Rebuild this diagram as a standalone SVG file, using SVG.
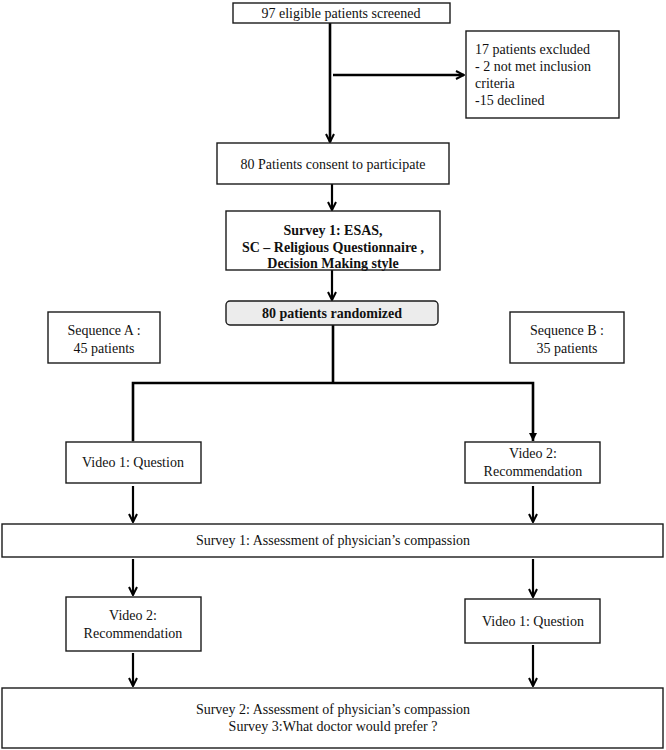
<svg xmlns="http://www.w3.org/2000/svg" width="666" height="750" viewBox="0 0 666 750">
<style>
.box{fill:#fff;stroke:#1a1a1a;stroke-width:1.4}
.gray{fill:#ececec;stroke:#1a1a1a;stroke-width:1.4}
text{font-family:"Liberation Serif","Times New Roman",serif;font-size:14px;fill:#111}
.c{text-anchor:middle}
.b{font-weight:bold}
.ln{fill:none;stroke:#000;stroke-width:2.6}
.sh{fill:none;stroke:#000;stroke-width:2.2}
</style>
<defs>
<marker id="v" viewBox="0 0 10 10" refX="9" refY="5" markerWidth="10" markerHeight="10" markerUnits="userSpaceOnUse" orient="auto">
<path d="M1,1 L9,5 L1,9" fill="none" stroke="#000" stroke-width="2"/>
</marker>
<marker id="t" viewBox="0 0 10 10" refX="10" refY="5" markerWidth="8" markerHeight="8" markerUnits="userSpaceOnUse" orient="auto">
<path d="M0,0 L10,5 L0,10 z" fill="#000"/>
</marker>
</defs>
<g id="connectors">
<line class="ln" x1="330" y1="23" x2="330" y2="142" marker-end="url(#v)"/>
<line class="ln" x1="333" y1="75" x2="464" y2="75" marker-end="url(#v)"/>
<line class="sh" x1="332" y1="184" x2="332" y2="210" marker-end="url(#v)"/>
<line class="sh" x1="332" y1="270" x2="332" y2="300" marker-end="url(#v)"/>
<polyline class="ln" points="333,325 333,383"/>
<polyline class="ln" points="133,441 133,383 533,383 533,441" marker-start="url(#t)" marker-end="url(#t)"/>
<line class="sh" x1="133" y1="486" x2="133" y2="522" marker-end="url(#v)"/>
<line class="sh" x1="533" y1="486" x2="533" y2="522" marker-end="url(#v)"/>
<line class="sh" x1="133" y1="559" x2="133" y2="595" marker-end="url(#v)"/>
<line class="sh" x1="533" y1="559" x2="533" y2="597" marker-end="url(#v)"/>
<line class="sh" x1="133" y1="653" x2="133" y2="686" marker-end="url(#v)"/>
<line class="sh" x1="533" y1="645" x2="533" y2="686" marker-end="url(#v)"/>
</g>
<g id="screened">
<rect class="box" x="233" y="3" width="217" height="20"/>
<text class="c" x="341" y="18">97 eligible patients screened</text>
</g>
<g id="excluded">
<rect class="box" x="466" y="31" width="153" height="87"/>
<text x="475" y="54">17 patients excluded</text>
<text x="475" y="71">- 2 not met inclusion</text>
<text x="475" y="88">criteria</text>
<text x="475" y="105">-15 declined</text>
</g>
<g id="consent">
<rect class="box" x="217" y="143" width="232" height="41"/>
<text class="c" x="333" y="169">80 Patients consent to participate</text>
</g>
<g id="survey1-esas">
<rect class="box" x="226" y="211" width="214" height="59"/>
<text class="c b" x="333" y="235">Survey 1: ESAS,</text>
<text class="c b" x="333" y="252">SC – Religious Questionnaire ,</text>
<text class="c b" x="333" y="268">Decision Making style</text>
</g>
<g id="randomized">
<rect class="gray" x="226" y="301" width="212" height="24" rx="4"/>
<text class="c b" x="332" y="318">80 patients randomized</text>
</g>
<g id="seqA">
<rect class="box" x="48" y="312" width="112" height="51"/>
<text class="c" x="104" y="335">Sequence A :</text>
<text class="c" x="104" y="353">45 patients</text>
</g>
<g id="seqB">
<rect class="box" x="510" y="312" width="114" height="51"/>
<text class="c" x="567" y="335">Sequence B :</text>
<text class="c" x="567" y="353">35 patients</text>
</g>
<g id="videoA1">
<rect class="box" x="66" y="442" width="135" height="41"/>
<text class="c" x="133" y="467">Video 1: Question</text>
</g>
<g id="videoB1">
<rect class="box" x="465" y="442" width="135" height="41"/>
<text class="c" x="533" y="458">Video 2:</text>
<text class="c" x="533" y="476">Recommendation</text>
</g>
<g id="survey1">
<rect class="box" x="2" y="524" width="661" height="33"/>
<text class="c" x="333" y="545">Survey 1: Assessment of physician’s compassion</text>
</g>
<g id="videoA2">
<rect class="box" x="66" y="597" width="135" height="54"/>
<text class="c" x="133" y="620">Video 2:</text>
<text class="c" x="133" y="638">Recommendation</text>
</g>
<g id="videoB2">
<rect class="box" x="465" y="599" width="135" height="44"/>
<text class="c" x="533" y="626">Video 1: Question</text>
</g>
<g id="survey23">
<rect class="box" x="2" y="688" width="661" height="60"/>
<text class="c" x="333" y="714">Survey 2: Assessment of physician’s compassion</text>
<text class="c" x="333" y="731">Survey 3:What doctor would prefer ?</text>
</g>
</svg>
